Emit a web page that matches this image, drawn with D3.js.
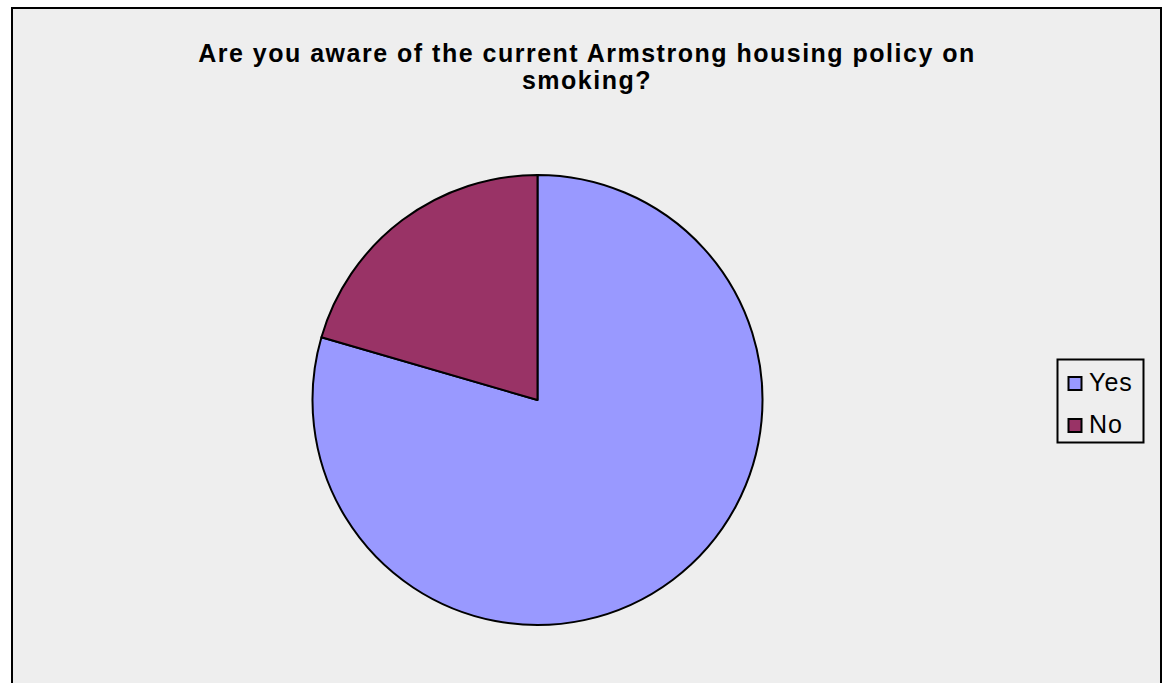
<!DOCTYPE html>
<html><head><meta charset="utf-8">
<script src="https://cdn.jsdelivr.net/npm/d3@7"></script>
<style>html,body{margin:0;padding:0;background:#fff;}svg{display:block;}</style>
</head><body>
<svg id="chart" width="1164" height="683"></svg>
<script>
const categories = ["Yes", "No"];
const values = [79.5, 20.5];
const colors = ["#9999FF", "#993366"];
const titleLines = ["Are you aware of the current Armstrong housing policy on", "smoking?"];

const svg = d3.select("#chart");
// chart area
svg.append("rect").attr("x", 12).attr("y", 8).attr("width", 1149).attr("height", 690)
  .attr("fill", "#EEEEEE").attr("stroke", "#000").attr("stroke-width", 2);

// title
const title = svg.append("text").attr("text-anchor", "middle")
  .attr("font-family", "Liberation Sans, Arial, sans-serif").attr("font-weight", "bold")
  .attr("font-size", 25).attr("letter-spacing", 1.5).attr("fill", "#000");
titleLines.forEach((t, i) => {
  title.append("tspan").attr("x", 587).attr("y", 62 + i * 27).text(t);
});

// pie
const data = categories.map((c, i) => ({cat: c, value: values[i], color: colors[i]}));
const pie = d3.pie().sort(null).value(d => d.value);
const arc = d3.arc().innerRadius(0).outerRadius(225);
const g = svg.append("g").attr("transform", "translate(537.5,400)");
g.selectAll("path").data(pie(data)).join("path")
  .attr("d", arc).attr("fill", d => d.data.color)
  .attr("stroke", "#000").attr("stroke-width", 2).attr("stroke-linejoin", "round");

// legend
const lg = svg.append("g");
lg.append("rect").attr("x", 1057.5).attr("y", 359.5).attr("width", 86).attr("height", 83)
  .attr("fill", "#EEEEEE").attr("stroke", "#000").attr("stroke-width", 2);
const y = d3.scalePoint().domain(categories).range([383, 425]);
const items = lg.selectAll("g.item").data(data).join("g").attr("class", "item")
  .attr("transform", d => `translate(0,${y(d.cat)})`);
items.append("rect").attr("x", 1068.5).attr("y", -6).attr("width", 13).attr("height", 13)
  .attr("fill", d => d.color).attr("stroke", "#000").attr("stroke-width", 2);
items.append("text").attr("x", 1089).attr("y", 8)
  .attr("font-family", "Liberation Sans, Arial, sans-serif").attr("font-size", 25)
  .attr("letter-spacing", 1).attr("fill", "#000").text(d => d.cat);
</script>
</body></html>
